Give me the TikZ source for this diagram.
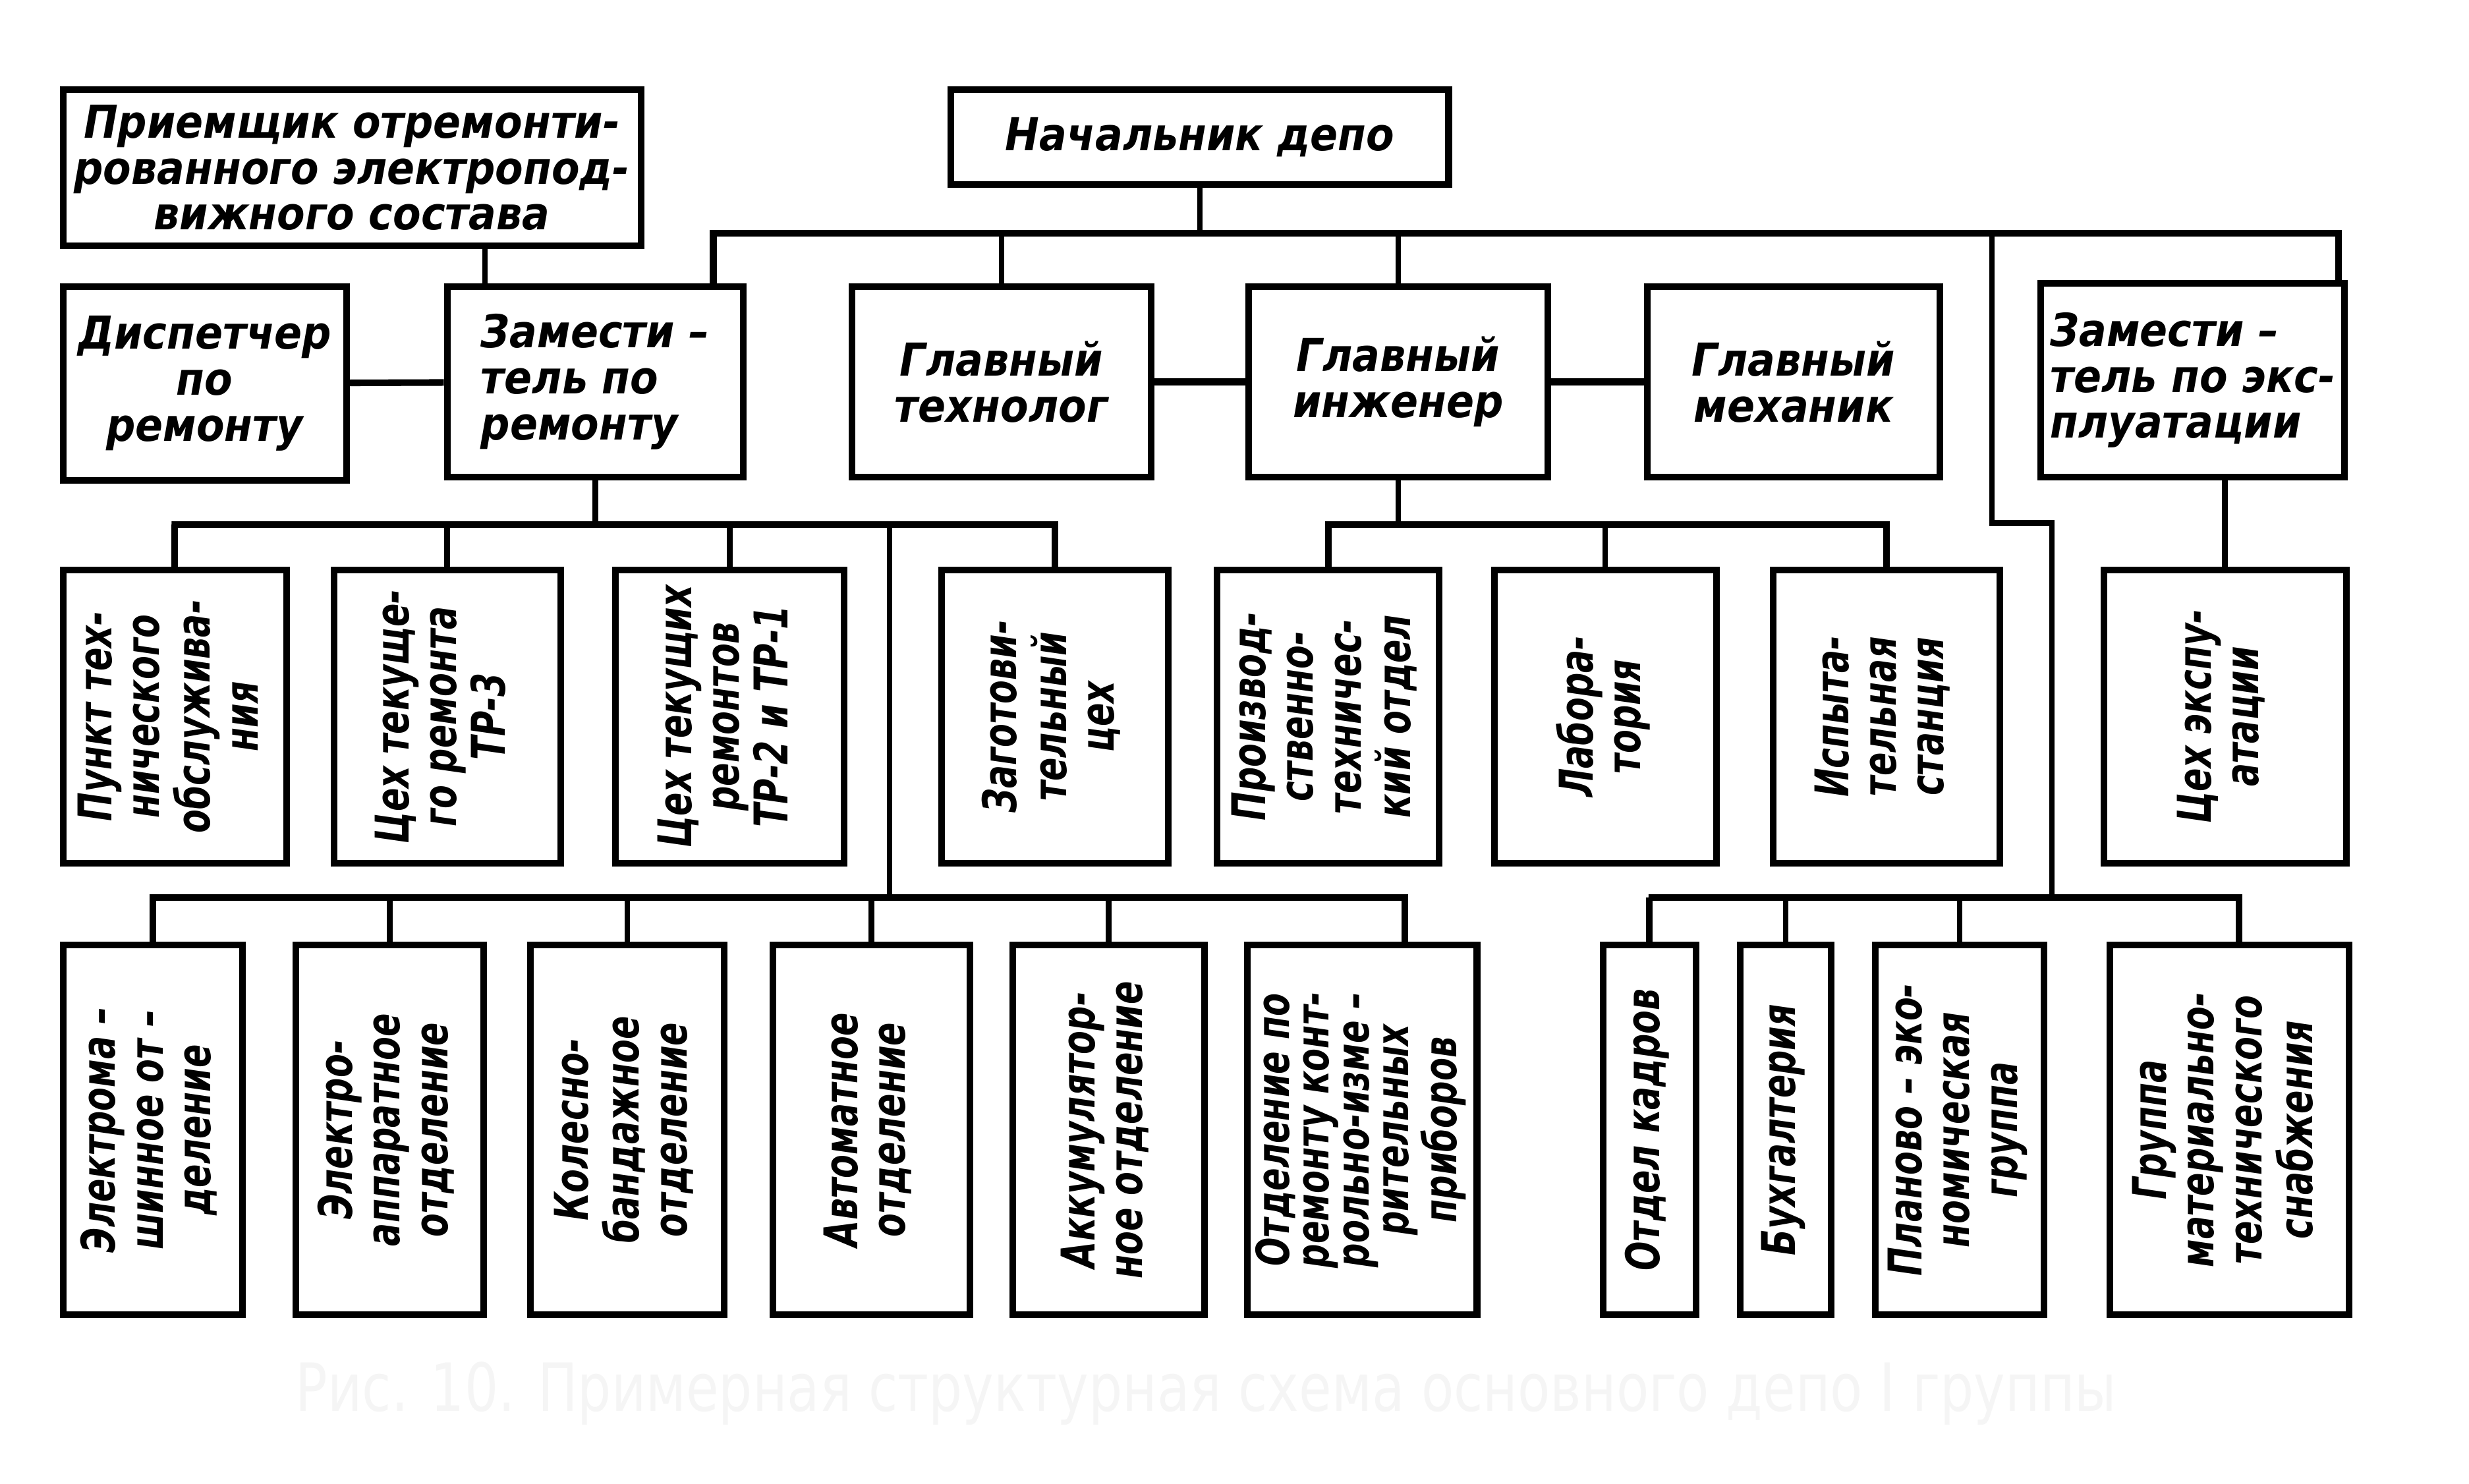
\documentclass[tikz,border=0pt]{standalone}
\usepackage{fontspec}
\usepackage{graphicx}
\newfontfamily\chartfont{DejaVu Sans}[FakeStretch=0.9]
\newfontfamily\narrowfont{DejaVu Sans}[FakeStretch=0.74]
\newfontfamily\capfont{DejaVu Sans}[FakeStretch=0.8]
\newcommand{\vtext}[1]{\rotatebox{90}{\begin{tabular}{@{}c@{}}#1\end{tabular}}}
\usetikzlibrary{positioning}

\tikzset{
  unit/.style={draw, line width=1.2pt, inner sep=1pt, align=center,
    font=\chartfont\bfseries\itshape\fontsize{8.2}{8.3}\selectfont},
  shop/.style={draw, line width=1.2pt, inner sep=0pt,
    font=\narrowfont\bfseries\itshape\fontsize{8.4}{8.6}\selectfont},
  link/.style={line width=1pt},
  bus/.style={line width=1.2pt},
  caption/.style={text=black!4, font=\capfont\fontsize{12}{13}\selectfont}
}

\begin{document}
\begin{tikzpicture}[x=0.1mm, y=-0.1mm]
  \useasboundingbox (0,0) rectangle (1568,942);
  % top
  \node[unit, minimum width=31.6mm, minimum height=6mm] (chief) at (762,87) {Начальник депо};
  \node[unit, minimum width=36.7mm, minimum height=9.9mm] (receiver) at (223.5,106.5)
    {Приемщик отремонти-\\рованного электропод-\\вижного состава};
  % first level
  \node[unit, minimum width=18mm, minimum height=12.3mm] (dispatcher) at (130,243.5) {Диспетчер\\по\\ремонту};
  \node[unit, align=left, minimum width=18.8mm, minimum height=12.1mm] (deprep) at (378,242.5) {Замести –\\тель по\\ремонту};
  \node[unit, minimum width=19mm, minimum height=12.1mm] (technologist) at (636,242.5) {Главный\\технолог};
  \node[unit, minimum width=19mm, minimum height=12.1mm] (engineer) at (888,242.5) {Главный\\инженер};
  \node[unit, minimum width=18.6mm, minimum height=12.1mm] (mechanic) at (1139,242.5) {Главный\\механик};
  \node[unit, align=left, minimum width=19.3mm, minimum height=12.3mm] (depops) at (1392.5,241.5) {Замести –\\тель по экс-\\плуатации};
  % second level
  \node[shop, minimum width=14.2mm, minimum height=18.6mm] (service) at (111,455) {\vtext{Пункт тех-\\нического\\обслужива-\\ния}};
  \node[shop, minimum width=14.4mm, minimum height=18.6mm] (shop3) at (284,455) {\vtext{Цех текуще-\\го ремонта\\ТР-3}};
  \node[shop, minimum width=14.5mm, minimum height=18.6mm] (shop21) at (463.5,455) {\vtext{Цех текущих\\ремонтов\\ТР-2 и ТР-1}};
  \node[shop, minimum width=14.4mm, minimum height=18.6mm] (blanks) at (670,455) {\vtext{Заготови-\\тельный\\цех}};
  \node[shop, minimum width=14.1mm, minimum height=18.6mm] (ptd) at (843.5,455) {\vtext{Производ-\\ственно-\\техничес-\\кий отдел}};
  \node[shop, minimum width=14.1mm, minimum height=18.6mm] (lab) at (1019.5,455) {\vtext{Лабора-\\тория}};
  \node[shop, minimum width=14.4mm, minimum height=18.6mm] (teststand) at (1198,455) {\vtext{Испыта-\\тельная\\станция}};
  \node[shop, minimum width=15.4mm, minimum height=18.6mm] (opshop) at (1413,455) {\vtext{Цех экспу-\\атации}};
  % third level
  \node[shop, minimum width=11.4mm, minimum height=23.5mm] (elmach) at (97,717.5) {\vtext{Электрома –\\шинное от –\\деление}};
  \node[shop, minimum width=11.9mm, minimum height=23.5mm] (elapp) at (247.5,717.5) {\vtext{Электро-\\аппаратное\\отделение}};
  \node[shop, minimum width=12.3mm, minimum height=23.5mm] (wheels) at (398.5,717.5) {\vtext{Колесно-\\бандажное\\отделение}};
  \node[shop, minimum width=12.5mm, minimum height=23.5mm] (automat) at (553.5,717.5) {\vtext{Автоматное\\отделение}};
  \node[shop, minimum width=12.2mm, minimum height=23.5mm] (battery) at (704,717.5) {\vtext{Аккумулятор-\\ное отделение}};
  \node[shop, minimum width=14.6mm, minimum height=23.5mm, font=\narrowfont\bfseries\itshape\fontsize{8.2}{7.2}\selectfont] (kip) at (865,717.5)
    {\vtext{Отделение по\\ремонту конт-\\рольно-изме –\\рительных\\приборов}};
  \node[shop, minimum width=5.9mm, minimum height=23.5mm] (staff) at (1047.5,717.5) {\vtext{Отдел кадров}};
  \node[shop, minimum width=5.8mm, minimum height=23.5mm] (account) at (1134,717.5) {\vtext{Бухгалтерия}};
  \node[shop, minimum width=10.7mm, minimum height=23.5mm] (plan) at (1244.5,717.5) {\vtext{Планово – эко-\\номическая\\группа}};
  \node[shop, minimum width=15.2mm, minimum height=23.5mm] (supply) at (1416,717.5) {\vtext{Группа\\материально-\\технического\\снабжения}};
  \node[caption] (cap) at (766,885) {Рис. 10. Примерная структурная схема основного депо I группы};

  % bus ends
  \coordinate (tl) at (453,148);
  \coordinate (tr) at (1485,148);
  \coordinate (tj) at (1265,148);
  \coordinate (tk) at (1265,332);
  \coordinate (tm) at (1303,332);
  \coordinate (rc) at (308,170);
  \coordinate (rl) at (109,333);
  \coordinate (rr) at (670,333);
  \coordinate (rj) at (565,333);
  \coordinate (el) at (848,333);
  \coordinate (er) at (1198,333);
  \coordinate (bl) at (97,570);
  \coordinate (br) at (892,570);
  \coordinate (ol) at (1047,570);
  \coordinate (or) at (1422,570);

  % connectors
  \draw[link] (chief) -- (chief |- tl);
  \draw[bus] (deprep.north -| tl) -- (tl) -- (tr) -- (depops.north -| tr);
  \draw[link] (technologist) -- (technologist |- tl);
  \draw[link] (engineer) -- (engineer |- tl);
  \draw[link] (receiver.south -| rc) -- (deprep.north -| rc);
  \draw[bus] (dispatcher) -- (deprep);
  \draw[bus] (technologist) -- (engineer);
  \draw[bus] (engineer) -- (mechanic);

  \draw[link] (deprep) -- (deprep |- rl);
  \draw[bus] (service) |- (rl) -- (rr) -| (blanks);
  \foreach \n in {shop3, shop21}
    \draw[link] (\n) -- (\n |- rl);
  \draw[link] (rj) -- (rj |- bl);
  \draw[bus] (elmach) |- (bl) -- (br) -- (kip.north -| br);
  \foreach \n in {elapp, wheels, automat, battery}
    \draw[link] (\n) -- (\n |- bl);

  \draw[link] (engineer) -- (engineer |- el);
  \draw[bus] (ptd) |- (el) -- (er) -| (teststand);
  \draw[link] (lab) -- (lab |- el);

  \draw[link] (depops.south -| opshop) -- (opshop);

  \draw[link] (tj) -- (tk) -- (tm) -- (tm |- ol);
  \draw[bus] (staff) |- (ol) -- (or) -- (supply.north -| or);
  \foreach \n in {account, plan}
    \draw[link] (\n) -- (\n |- ol);
\end{tikzpicture}
\end{document}
